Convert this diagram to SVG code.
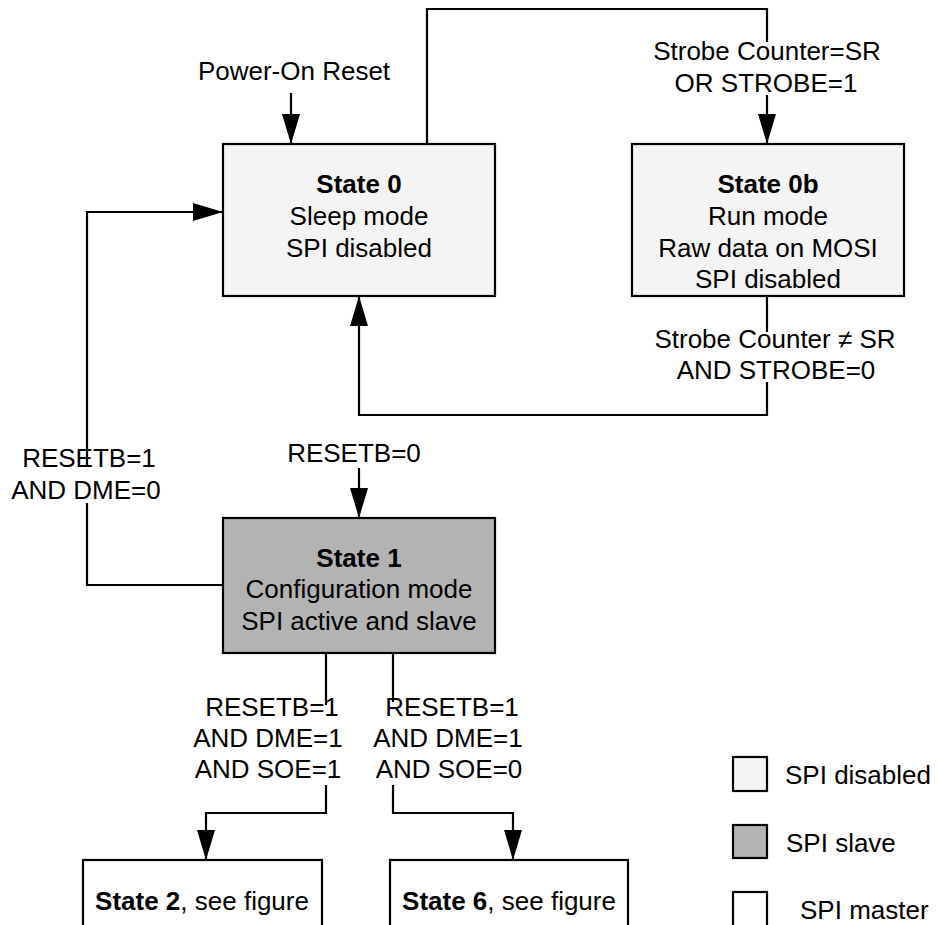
<svg xmlns="http://www.w3.org/2000/svg" width="938" height="925" viewBox="0 0 938 925">
<style>
text{font-family:"Liberation Sans",Arial,sans-serif;font-size:26px;fill:#000}
.c{text-anchor:middle}
.b{font-weight:bold}
.box{stroke:#000;stroke-width:2.2}
.dis{fill:#f4f4f4}
.sl{fill:#b3b3b3}
.ma{fill:#fff}
.ln{fill:none;stroke:#000;stroke-width:2.2}
</style>
<defs>
<marker id="ah" markerUnits="userSpaceOnUse" markerWidth="30" markerHeight="18" refX="30" refY="9" orient="auto">
<path d="M0,0 L30,9 L0,18 z" fill="#000"/>
</marker>
</defs>
<rect width="938" height="925" fill="#fff"/>
<g id="connectors">
<path class="ln" d="M291,93 L291,144" marker-end="url(#ah)"/>
<path class="ln" d="M427,144 L427,9 L767,9 L767,42"/>
<path class="ln" d="M767,95 L767,144" marker-end="url(#ah)"/>
<path class="ln" d="M767,296 L767,332"/>
<path class="ln" d="M767,382 L767,415 L359,415 L359,296" marker-end="url(#ah)"/>
<path class="ln" d="M223,585 L87,585 L87,503"/>
<path class="ln" d="M87,465 L87,212 L223,212" marker-end="url(#ah)"/>
<path class="ln" d="M359,468 L359,518" marker-end="url(#ah)"/>
<path class="ln" d="M326,653 L326,705"/>
<path class="ln" d="M326,785 L326,813 L206,813 L206,860" marker-end="url(#ah)"/>
<path class="ln" d="M393,653 L393,702"/>
<path class="ln" d="M393,785 L393,813 L513,813 L513,860" marker-end="url(#ah)"/>
<text class="c" x="294" y="80">Power-On Reset</text>
<text class="c" x="767" y="60">Strobe Counter=SR</text>
<text class="c" x="766" y="92">OR STROBE=1</text>
<text class="c" x="775" y="348">Strobe Counter ≠ SR</text>
<text class="c" x="776" y="379">AND STROBE=0</text>
<text class="c" x="89" y="467">RESETB=1</text>
<text class="c" x="86" y="499">AND DME=0</text>
<text class="c" x="354" y="462">RESETB=0</text>
<text class="c" x="272" y="716">RESETB=1</text>
<text class="c" x="268" y="747">AND DME=1</text>
<text class="c" x="268" y="778">AND SOE=1</text>
<text class="c" x="452" y="716">RESETB=1</text>
<text class="c" x="448" y="747">AND DME=1</text>
<text class="c" x="449" y="778">AND SOE=0</text>
</g>
<g id="state0">
<rect class="box dis" x="223" y="144" width="272" height="152"/>
<text class="c b" x="359" y="193">State 0</text>
<text class="c" x="359" y="225">Sleep mode</text>
<text class="c" x="359" y="257">SPI disabled</text>
</g>
<g id="state0b">
<rect class="box dis" x="632" y="144" width="272" height="152"/>
<text class="c b" x="768" y="193">State 0b</text>
<text class="c" x="768" y="225">Run mode</text>
<text class="c" x="768" y="257">Raw data on MOSI</text>
<text class="c" x="768" y="288">SPI disabled</text>
</g>
<g id="state1">
<rect class="box sl" x="223" y="518" width="272" height="135"/>
<text class="c b" x="359" y="567">State 1</text>
<text class="c" x="359" y="598">Configuration mode</text>
<text class="c" x="359" y="630">SPI active and slave</text>
</g>
<g id="state2">
<rect class="box ma" x="83" y="860" width="239" height="90"/>
<text class="c" x="202" y="910"><tspan class="b">State 2</tspan>, see figure</text>
</g>
<g id="state6">
<rect class="box ma" x="390" y="860" width="238" height="90"/>
<text class="c" x="509" y="910"><tspan class="b">State 6</tspan>, see figure</text>
</g>
<g id="legend">
<rect class="box dis" x="733" y="757" width="34" height="34"/>
<text x="785" y="784">SPI disabled</text>
<rect class="box sl" x="733" y="825" width="34" height="33"/>
<text x="786" y="852">SPI slave</text>
<rect class="box ma" x="733" y="892" width="34" height="40"/>
<text x="800" y="919">SPI master</text>
</g>
</svg>
